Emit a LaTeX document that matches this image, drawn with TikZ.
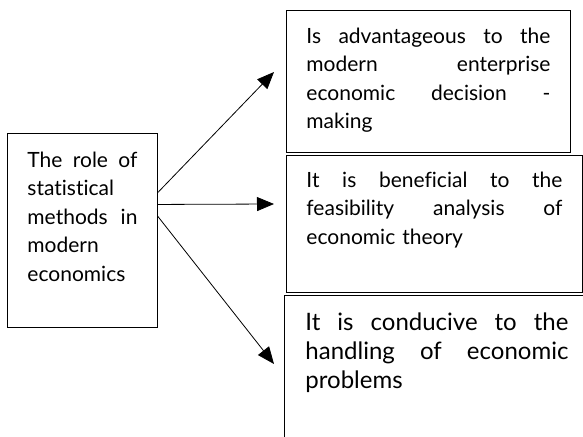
\documentclass[tikz,border=0pt]{standalone}
\usepackage{fontspec}
\setmainfont{Lato}[Ligatures=NoCommon]
\usetikzlibrary{arrows.meta}

\begin{document}
\begin{tikzpicture}[x=1pt, y=-1pt,
	box/.style={draw, line width=0.9pt, anchor=north west, inner xsep=20pt, inner ysep=0pt,
		align=left, font=\fontsize{21}{28.5}\selectfont},
	arr/.style={line width=0.8pt, -{Triangle[length=17pt, width=14pt]}}]
	\useasboundingbox (0,0) rectangle (583,436);

	% Left box
	\node[box, text width=110pt, text height=34pt, text depth=160pt] (role) at (7,133)
		{The\hfill role\hfill of\\ statistical\\ methods\hfill in\\ modern\\ economics};

	% Right boxes
	\node[box, text width=244pt, text height=33pt, text depth=109pt] (decision) at (286,10)
		{Is\hfill advantageous\hfill to\hfill the\\ modern\hfill enterprise\\ economic\hfill decision\hfill -\\ making};
	\node[box, text width=256pt, text height=32pt, text depth=105pt] (theory) at (286,155)
		{It\hfill is\hfill beneficial\hfill to\hfill the\\ feasibility\hfill analysis\hfill of\\ economic theory};
	\node[box, inner xsep=21pt, text width=263pt, text height=35pt, text depth=160pt,
		font=\fontsize{24}{29}\selectfont] (problems) at (284,295)
		{It\hfill is\hfill conducive\hfill to\hfill the\\ handling\hfill of\hfill economic\\ problems};

	% Arrow tips
	\coordinate (tipA) at (274,72);
	\coordinate (tipB) at (274,204);
	\coordinate (tipC) at (274,364);

	\draw[arr] ([yshift=38pt]role.east) -- (tipA);
	\draw[arr] ([yshift=26pt]role.east) -- (tipB);
	\draw[arr] ([yshift=14pt]role.east) -- (tipC);

\end{tikzpicture}
\end{document}
